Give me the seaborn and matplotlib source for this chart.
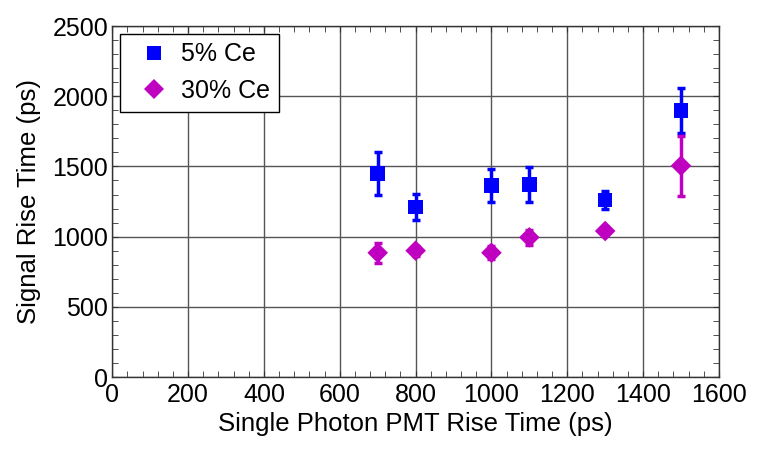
import numpy as np
import pandas as pd
import seaborn as sns
import matplotlib.pyplot as plt
from matplotlib.ticker import MultipleLocator

pmt_rise = [700, 800, 1000, 1100, 1300, 1500]
ce5_rise = [1450, 1210, 1365, 1370, 1260, 1900]
ce5_err = [150, 95, 120, 125, 65, 160]
ce30_rise = [885, 900, 885, 995, 1040, 1505]
ce30_err = [70, 35, 45, 55, 25, 215]

df = pd.concat([
    pd.DataFrame({"pmt": pmt_rise, "rise": ce5_rise, "err": ce5_err, "sample": "5% Ce"}),
    pd.DataFrame({"pmt": pmt_rise, "rise": ce30_rise, "err": ce30_err, "sample": "30% Ce"}),
])

sns.set_style("ticks", {"text.color": "black", "axes.labelcolor": "black",
                        "xtick.color": "#333333", "ytick.color": "#333333"})
plt.rcParams['font.family'] = ['Liberation Sans', 'DejaVu Sans']

fig = plt.figure(figsize=(7.64, 4.57), dpi=100)
ax = fig.add_axes([0.147, 0.175, 0.794, 0.768])

palette = {"5% Ce": "#0000ff", "30% Ce": "#c000c0"}
markers = {"5% Ce": "s", "30% Ce": "D"}

for name, grp in df.groupby("sample", sort=False):
    ax.errorbar(grp["pmt"], grp["rise"], yerr=grp["err"], fmt='none',
                ecolor=palette[name], elinewidth=2.5, capsize=3, capthick=2.5, zorder=3)

sns.scatterplot(data=df, x="pmt", y="rise", hue="sample", style="sample",
                palette=palette, markers=markers, s=110, linewidth=0,
                ax=ax, zorder=4)

ax.set_xlim(0, 1600)
ax.set_ylim(0, 2500)
ax.xaxis.set_major_locator(MultipleLocator(200))
ax.xaxis.set_minor_locator(MultipleLocator(40))
ax.yaxis.set_major_locator(MultipleLocator(500))
ax.yaxis.set_minor_locator(MultipleLocator(100))
ax.grid(True, which='major', color='#555555', linewidth=1)
ax.tick_params(which='both', direction='in', top=True, right=True, labelsize=18,
               labelcolor='black')
ax.tick_params(axis='x', pad=4)
ax.tick_params(axis='y', pad=3)
ax.tick_params(which='major', length=4)
ax.tick_params(which='minor', length=4)
for s in ax.spines.values():
    s.set_color('#333333')
    s.set_linewidth(1)

ax.set_xlabel('Single Photon PMT Rise Time (ps)', fontsize=18.5, labelpad=4, color='black')
ax.set_ylabel('Signal Rise Time (ps)', fontsize=18.5, labelpad=8, color='black')

leg = ax.legend(loc='upper left', fontsize=18, frameon=True, fancybox=False,
                edgecolor='black', framealpha=1, borderaxespad=0.3,
                handletextpad=0.1, borderpad=0.35, labelspacing=0.5)
leg.get_frame().set_linewidth(1)
for t in leg.get_texts():
    t.set_color('black')

fig.savefig('out.png', dpi=100)
